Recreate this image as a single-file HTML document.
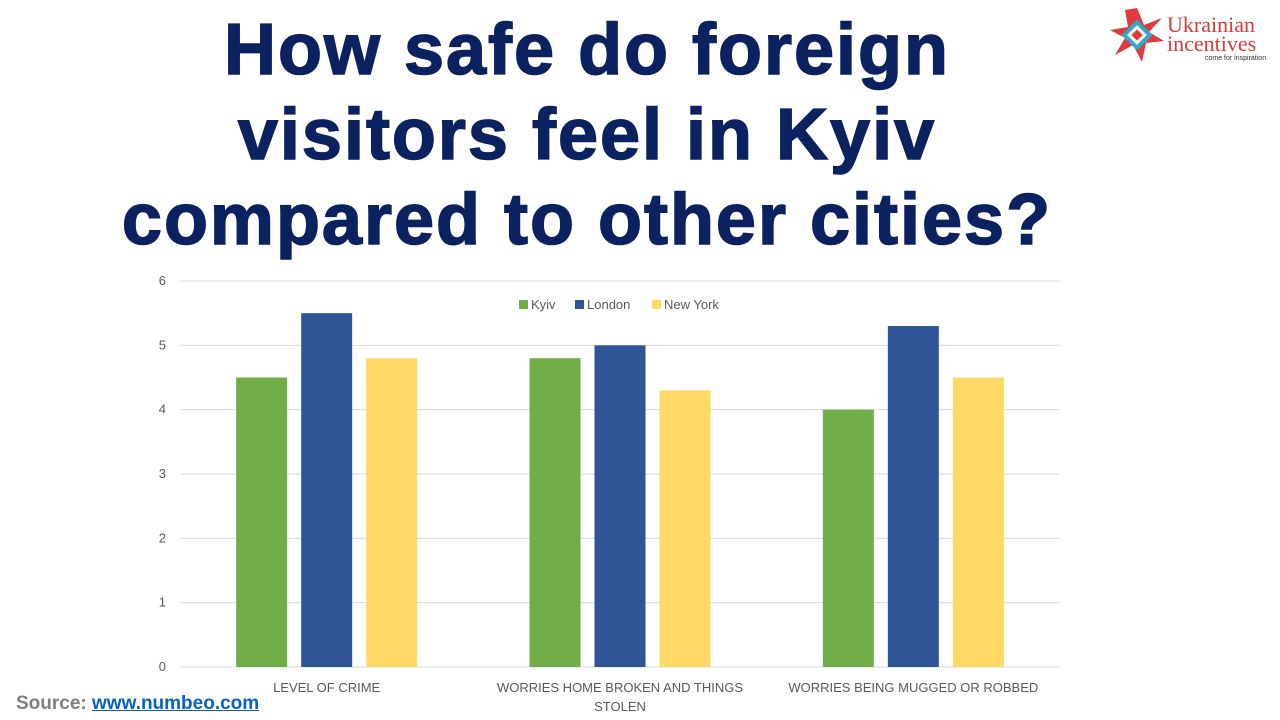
<!DOCTYPE html>
<html><head><meta charset="utf-8"><style>
body{margin:0;width:1280px;height:720px;background:#fff;position:relative;overflow:hidden;font-family:"Liberation Sans",sans-serif}
.title{position:absolute;left:80px;width:1014px;top:8px;text-align:center;color:#0b2160;font-weight:bold;font-size:72px;line-height:85px;letter-spacing:2px;-webkit-text-stroke:1.5px #0b2160}
.src{position:absolute;left:16px;top:693px;font-size:19px;font-weight:bold;color:#7f7f7f}
.src a{color:#0563c1;text-decoration:underline}
</style></head><body>
<div class="title">How safe do foreign<br>visitors feel in Kyiv<br>compared to other cities?</div>
<svg style="position:absolute;left:1105px;top:4px" width="175" height="62">
<g transform="translate(32,31)"><polygon points="0,-27 7,-10 25,-17 12,-3 27,6 9,8 5,27 -4,10 -22,20 -12,3 -27,-5 -9,-8 -12,-25" fill="#e03a3a"/><rect x="-11" y="-11" width="22" height="22" fill="#2fa8c8" transform="rotate(45)"/><rect x="-7" y="-7" width="14" height="14" fill="#fff" transform="rotate(45)"/><rect x="-4" y="-4" width="8" height="8" fill="#e03a3a" transform="rotate(45)"/></g>
<text x="62" y="28" font-size="22" fill="#d93a3a" font-family="Liberation Serif">Ukrainian</text>
<text x="62" y="47" font-size="22" fill="#d93a3a" font-family="Liberation Serif">incentives</text>
<text x="100" y="56" font-size="7" fill="#333">come for inspiration</text>
</svg>
<svg id="chart" style="position:absolute;left:0;top:0" width="1280" height="720"></svg>
<div class="src">Source: <a>www.numbeo.com</a></div>
<script>
const categories=["LEVEL OF CRIME","WORRIES HOME BROKEN AND THINGS|STOLEN","WORRIES BEING MUGGED OR ROBBED"];
const seriesNames=["Kyiv","London","New York"];
const kyiv=[4.5,4.8,4.0];
const london=[5.5,5.0,5.3];
const newYork=[4.8,4.3,4.5];
const yTicks=[0,1,2,3,4,5,6];
const colors=["#70ad47","#2f5597","#ffd966"];
const svg=document.getElementById('chart');
const NS='http://www.w3.org/2000/svg';
const x0=180,x1=1060,yTop=281,yBot=667,yMax=6;
const y=v=>yBot-(v/yMax)*(yBot-yTop);
const gw=(x1-x0)/categories.length;
function mk(t,a){const e=document.createElementNS(NS,t);for(const k in a)e.setAttribute(k,a[k]);svg.appendChild(e);return e;}
yTicks.forEach(t=>{
 const l=mk('line',{x1:x0,x2:x1,y1:y(t),y2:y(t),stroke:'#d9d9d9','stroke-width':1});
 
 
 const tx=mk('text',{x:166,y:y(t)+4,'font-size':13,fill:'#595959','text-anchor':'end'});tx.textContent=t;
 
 
});
const all=[kyiv,london,newYork];
categories.forEach((c,i)=>{
 const cx=x0+gw*(i+0.5);
 all.forEach((s,j)=>{
  const bx=cx-25.5+(j-1)*65;
  const r=mk('rect',{x:bx,y:y(s[i]),width:51,height:yBot-y(s[i]),fill:colors[j]});
  
  
 });
 c.split('|').forEach((ln,k)=>{
  const t=mk('text',{x:cx,y:692+k*19,'font-size':13,fill:'#595959','text-anchor':'middle'});t.textContent=ln;
  
  
 });
});
const lx=[519,575,652];
seriesNames.forEach((n,j)=>{
 const r=mk('rect',{x:lx[j],y:300,width:9,height:9,fill:colors[j]});
 
 
 const t=mk('text',{x:lx[j]+12,y:309,'font-size':13,fill:'#595959'});t.textContent=n;
 
 
});
</script>
</body></html>
